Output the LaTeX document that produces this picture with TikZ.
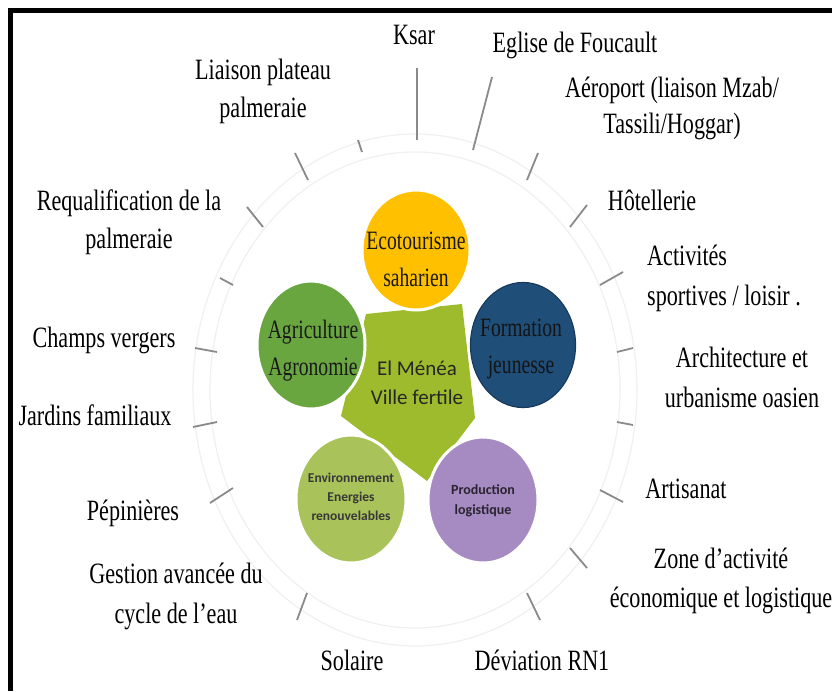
\documentclass[tikz,border=0pt]{standalone}
\usepackage{fontspec}
\setmainfont{Liberation Serif}
\newfontfamily\lblfont[FakeStretch=0.75]{Liberation Serif}
\newfontfamily\inlfont[FakeStretch=0.74]{Liberation Serif}
\newfontfamily\calib{Carlito}
\definecolor{ecoY}{HTML}{FFC000}
\definecolor{agriG}{HTML}{6AA640}
\definecolor{formB}{HTML}{1F4E79}
\definecolor{formD}{HTML}{16395C}
\definecolor{envG}{HTML}{A9C25A}
\definecolor{prodP}{HTML}{A68BC2}
\definecolor{centG}{HTML}{9DBB2D}
\definecolor{tickgray}{HTML}{8A8A8A}
\tikzset{
  lbl/.style={font=\lblfont\fontsize{29.5}{38}\selectfont, inner sep=0pt, anchor=base, align=center, text=black},
  intxt/.style={font=\inlfont\fontsize{26.5}{37}\selectfont, inner sep=0pt, anchor=base, align=center, text=black!90},
  smalltxt/.style={font=\calib\bfseries\fontsize{13.5}{19}\selectfont, inner sep=0pt, anchor=base, align=center},
  tickline/.style={draw=tickgray, line width=1.8pt},
  faintarc/.style={draw=black!6, line width=1.2pt},
  bubble/.style={draw=white, line width=3pt},
}
\begin{document}
\begin{tikzpicture}[x=1pt,y=-1pt]
\useasboundingbox[fill=white] (0,0) rectangle (832,691);
% faint outer arcs
\draw[faintarc] (415,390) ellipse [x radius=205, y radius=238];
\draw[faintarc] (415,390) ellipse [x radius=222, y radius=256];
% ticks
\draw[tickline] (417,68) -- (417,140);
\draw[tickline] (492,77) -- (473,150);
\draw[tickline] (358,140) -- (362,152);
\draw[tickline] (295,153) -- (308,180);
\draw[tickline] (538,153) -- (527,180);
\draw[tickline] (587,205) -- (570,227);
\draw[tickline] (247,207) -- (263,227);
\draw[tickline] (623,272) -- (600,285);
\draw[tickline] (220,278) -- (233,285);
\draw[tickline] (195,348) -- (217,352);
\draw[tickline] (617,352) -- (633,348);
\draw[tickline] (193,427) -- (217,422);
\draw[tickline] (617,422) -- (633,425);
\draw[tickline] (210,503) -- (233,488);
\draw[tickline] (600,490) -- (623,502);
\draw[tickline] (570,548) -- (587,568);
\draw[tickline] (527,593) -- (540,620);
\draw[tickline] (307,593) -- (297,620);
% central shape
\fill[centG] (366,314) -- (462,304) -- (475,418) -- (427,481) -- (341,416) -- cycle;
% bubbles
\fill[bubble, fill=ecoY] (416,250) ellipse [x radius=54, y radius=60];
\fill[bubble, fill=agriG] (311,345) ellipse [x radius=54, y radius=64];
\filldraw[bubble, fill=formB] (523,345) ellipse [x radius=54, y radius=64];
\draw[formD, line width=1.2pt] (523,345) ellipse [x radius=52.5, y radius=62.5];
\fill[bubble, fill=envG] (351,499) ellipse [x radius=55, y radius=64];
\fill[bubble, fill=prodP] (483,500) ellipse [x radius=55, y radius=63];
% bubble texts (anchor = baseline of last line)
\node[intxt] (eco) at (416,286) {Ecotourisme\\saharien};
\node[intxt] (agri) at (313,375) {Agriculture\\Agronomie};
\node[intxt, text=black!92] (form) at (521,373) {Formation\\jeunesse};
\node[smalltxt, text=black!78] (env) at (351,520) {Environnement\\Energies\\renouvelables};
\node[smalltxt, font=\calib\bfseries\fontsize{14}{19.5}\selectfont, text=black!75!prodP] (prod) at (483,514) {Production\\logistique};
\node[font=\calib\fontsize{21}{29}\selectfont, inner sep=0pt, anchor=base, align=center, text=black!85] (centre) at (417,404) {El Ménéa\\Ville fertile};
% outer labels
\node[lbl] (ksar) at (414,44) {Ksar};
\node[lbl] (eglise) at (575,52) {Eglise de Foucault};
\node[lbl] (liaison) at (263,117) {Liaison plateau\\palmeraie};
\node[lbl, font=\lblfont\fontsize{29.5}{36}\selectfont] (aero) at (672,133) {Aéroport (liaison Mzab/\\Tassili/Hoggar)};
\node[lbl] (hotel) at (652,210) {Hôtellerie};
\node[lbl, anchor=base west, align=left, font=\lblfont\fontsize{29.5}{40}\selectfont] (activ) at (647,305) {Activités\\sportives / loisir .};
\node[lbl, font=\lblfont\fontsize{29.5}{40}\selectfont] (archi) at (742,407) {Architecture et\\urbanisme oasien};
\node[lbl] (artis) at (686,498) {Artisanat};
\node[lbl, font=\lblfont\fontsize{29.5}{39}\selectfont] (zone) at (721,607) {Zone d’activité\\économique et logistique};
\node[lbl] (devia) at (542,670) {Déviation RN1};
\node[lbl] (solaire) at (352,670) {Solaire};
\node[lbl, font=\lblfont\fontsize{29.5}{40}\selectfont] (gestion) at (176,623) {Gestion avancée du\\cycle de l’eau};
\node[lbl] (pepin) at (133,520) {Pépinières};
\node[lbl] (jardins) at (95,425) {Jardins familiaux};
\node[lbl] (champs) at (104,347) {Champs vergers};
\node[lbl] (requal) at (129,248) {Requalification de la\\palmeraie};
% frame
\draw[line width=4.5pt] (10.5,691) -- (10.5,10.5) -- (832,10.5);
\end{tikzpicture}
\end{document}
